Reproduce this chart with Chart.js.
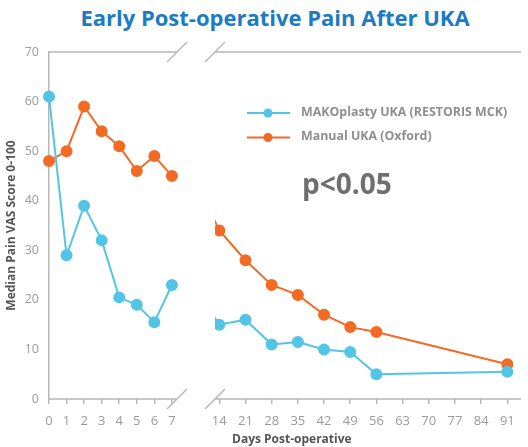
<!DOCTYPE html>
<html>
<head>
<meta charset="utf-8">
<script src="https://cdn.jsdelivr.net/npm/chart.js@4/dist/chart.umd.min.js"></script>
<style>
  body { margin: 0; width: 528px; height: 447px; position: relative; background: #fff; overflow: hidden; font-family: "Open Sans", sans-serif; }
  #title { position: absolute; left: 0; width: 550px; top: 2px; text-align: center; color: #1b7bc4; font-weight: 700; font-size: 22px; }
  #leftChart { position: absolute; left: 0; top: 0; }
  #rightChart { position: absolute; left: 190px; top: 0; }
  #xTitle { position: absolute; left: 232px; top: 430px; font-weight: 700; font-size: 12px; color: #555; }
</style>
</head>
<body>
<div id="title">Early Post-operative Pain After UKA</div>
<canvas id="leftChart" width="200" height="447"></canvas>
<canvas id="rightChart" width="338" height="447"></canvas>
<div id="xTitle">Days Post-operative</div>
<script>
var seriesNames = ['MAKOplasty UKA (RESTORIS MCK)', 'Manual UKA (Oxford)'];
var seriesColors = ['#52c5e6', '#f26a23'];

var earlyDays = [0, 1, 2, 3, 4, 5, 6, 7];
var makoEarly = [61, 29, 39, 32, 20.5, 19, 15.5, 23];
var manualEarly = [48, 50, 59, 54, 51, 46, 49, 45];

var lateDays = [14, 21, 28, 35, 42, 49, 56, 91];
var makoLate = [15, 16, 11, 11.5, 10, 9.5, 5, 5.5];
var manualLate = [34, 28, 23, 21, 17, 14.5, 13.5, 7];

var earlyTicks = [0, 1, 2, 3, 4, 5, 6, 7];
var lateTicks = [14, 21, 28, 35, 42, 49, 56, 63, 70, 77, 84, 91];
var yTicks = [0, 10, 20, 30, 40, 50, 60, 70];

var axisGray = '#b8b8b8';
var tickGray = '#9b9b9b';

Chart.defaults.font.family = "'Open Sans', sans-serif";
Chart.defaults.font.size = 12;

function points(days, values) {
	return days.map(function (d, i) { return { x: d, y: values[i] }; });
}

function lineSet(i, data) {
	return {
		label: seriesNames[i],
		data: data,
		borderColor: seriesColors[i],
		backgroundColor: seriesColors[i],
		borderWidth: 2,
		pointRadius: 5,
		pointHoverRadius: 5,
		tension: 0
	};
}

function setTicks(list) {
	return function (scale) {
		scale.ticks = list.map(function (v) { return { value: v }; });
	};
}

// top/bottom frame lines with the // break marks
function breakFrame(side) {
	return {
		id: 'breakFrame',
		beforeDatasetsDraw: function (chart) {
			var ctx = chart.ctx, a = chart.chartArea;
			var bx = side === 'left' ? a.right : a.left;
			ctx.save();
			ctx.strokeStyle = axisGray;
			ctx.lineWidth = 1.5;
			ctx.beginPath();
			[a.top, a.bottom].forEach(function (y) {
				if (side === 'left') {
					ctx.moveTo(a.left, y); ctx.lineTo(bx, y);
				} else {
					ctx.moveTo(bx, y); ctx.lineTo(a.right, y);
				}
				ctx.moveTo(bx - 10, y + 10);
				ctx.lineTo(bx + 10, y - 10);
			});
			ctx.stroke();
			ctx.restore();
		}
	};
}

var lineLegend = {
	id: 'lineLegend',
	afterDraw: function (chart) {
		var ctx = chart.ctx;
		ctx.save();
		chart.data.datasets.forEach(function (ds, i) {
			var y = 113 + i * 24.5;
			ctx.strokeStyle = ds.borderColor;
			ctx.lineWidth = 2;
			ctx.beginPath();
			ctx.moveTo(57, y); ctx.lineTo(100, y);
			ctx.stroke();
			ctx.fillStyle = ds.borderColor;
			ctx.beginPath();
			ctx.arc(78, y, 4.5, 0, Math.PI * 2);
			ctx.fill();
			ctx.fillStyle = '#8e8e8e';
			ctx.font = "bold 12.4px 'Open Sans', sans-serif";
			ctx.textBaseline = 'middle';
			ctx.fillText(ds.label, 111, y - 1);
		});
		ctx.fillStyle = '#6f6f6f';
		ctx.font = "bold 28px 'Open Sans', sans-serif";
		ctx.textBaseline = 'alphabetic';
		ctx.fillText('p<0.05', 112, 194);
		ctx.restore();
	}
};

var yScale = {
	min: 0,
	max: 70,
	afterBuildTicks: setTicks(yTicks)
};

var xTickFont = { size: 13 };

new Chart(document.getElementById('leftChart'), {
	type: 'line',
	data: {
		datasets: [
			lineSet(0, points(earlyDays, makoEarly)),
			lineSet(1, points(earlyDays, manualEarly))
		]
	},
	options: {
		responsive: false,
		animation: false,
		clip: false,
		layout: { padding: { top: 52, right: 23, left: 0, bottom: 0 } },
		plugins: { legend: { display: false }, tooltip: { enabled: false } },
		scales: {
			x: {
				type: 'linear',
				min: 0,
				max: 7.29,
				afterBuildTicks: setTicks(earlyTicks),
				afterFit: function (s) { s.height = 48; },
				grid: { drawOnChartArea: false, drawTicks: true, tickLength: 5, color: axisGray, lineWidth: 1.5 },
				border: { display: false },
				ticks: { color: tickGray, padding: 9, autoSkip: false, maxRotation: 0, font: xTickFont }
			},
			y: Object.assign({}, yScale, {
				afterFit: function (s) { s.width = 49; },
				grid: { display: false, drawTicks: false },
				border: { display: true, color: axisGray, width: 1.5 },
				ticks: { color: tickGray, padding: 10, font: { size: 12.5 } },
				title: { display: true, text: 'Median Pain VAS Score 0-100', color: '#555', font: { weight: 'bold', size: 12 } }
			})
		}
	},
	plugins: [breakFrame('left')]
});

new Chart(document.getElementById('rightChart'), {
	type: 'line',
	data: {
		datasets: [
			lineSet(0, points([earlyDays[7]].concat(lateDays), [makoEarly[7]].concat(makoLate))),
			lineSet(1, points([earlyDays[7]].concat(lateDays), [manualEarly[7]].concat(manualLate)))
		]
	},
	options: {
		responsive: false,
		animation: false,
		clip: { left: 0, top: false, right: false, bottom: false },
		layout: { padding: { top: 52, right: 0, left: 25, bottom: 0 } },
		plugins: { legend: { display: false }, tooltip: { enabled: false } },
		scales: {
			x: {
				type: 'linear',
				min: 12.85,
				max: 94.65,
				afterBuildTicks: setTicks(lateTicks),
				afterFit: function (s) { s.height = 48; },
				grid: { drawOnChartArea: false, drawTicks: true, tickLength: 5, color: axisGray, lineWidth: 1.5 },
				border: { display: false },
				ticks: { color: tickGray, padding: 9, autoSkip: false, maxRotation: 0, font: xTickFont }
			},
			y: Object.assign({}, yScale, { display: false })
		}
	},
	plugins: [breakFrame('right'), lineLegend]
});
</script>
</body>
</html>
